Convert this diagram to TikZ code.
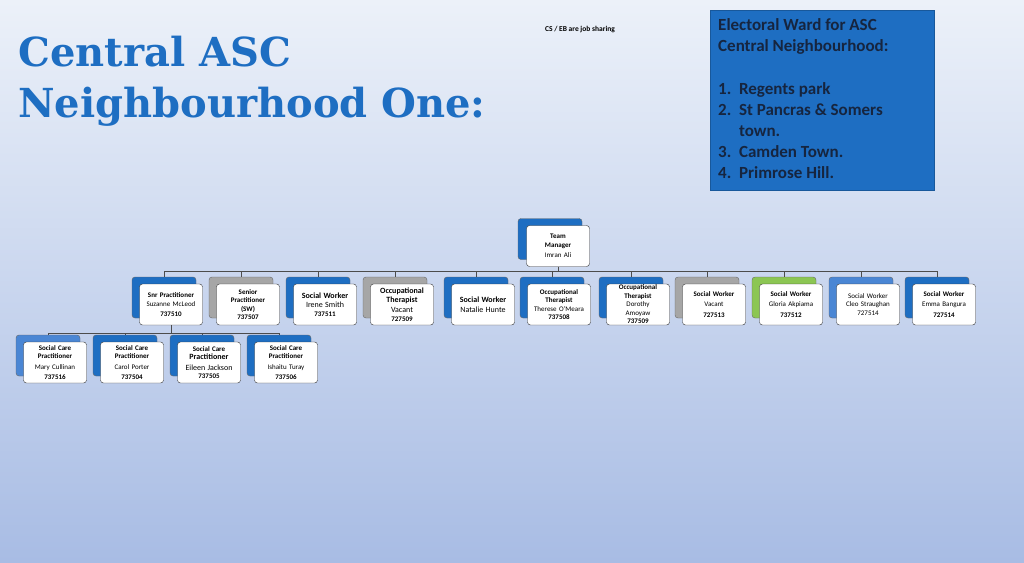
\documentclass[tikz,border=0pt]{standalone}
\usepackage{fontspec}
\setmainfont{Carlito}
\newfontfamily\titlefont{DejaVu Serif}
\usetikzlibrary{positioning}
\definecolor{ascblue}{HTML}{1E6EC2}
\definecolor{navy}{HTML}{16253F}
\definecolor{cardgray}{HTML}{A6A6A6}
\definecolor{cardgreen}{HTML}{8CC653}
\definecolor{cardsky}{HTML}{4A86D4}

\begin{document}
\begin{tikzpicture}[x=1pt,y=-1pt]
\tikzset{cardback/.style={draw=black!60,rounded corners=3pt,minimum width=64pt,minimum height=41pt},
cardfront/.style={draw=black!80,fill=white,rounded corners=3pt,minimum width=63pt,minimum height=41pt,text width=61pt,align=center,font=\fontsize{7}{8.5}\selectfont,inner sep=1pt},
link/.style={draw=black!70,line width=0.6pt}}
\shade[top color={rgb,255:red,236;green,241;blue,249},bottom color={rgb,255:red,168;green,188;blue,228}] (0,0) rectangle (1024,562);
\useasboundingbox (0,0) rectangle (1024,562);
% title and ward box
\node[anchor=north west,text=ascblue,font=\titlefont\bfseries\fontsize{40}{51}\selectfont,align=left,inner sep=0pt] (title) at (18,36) {Central ASC\\Neighbourhood One:};
\node[font=\fontsize{7.5}{8}\selectfont\bfseries] (share) at (580,30) {CS / EB are job sharing};
\node[fill=ascblue,draw=ascblue!80!black,minimum width=224pt,minimum height=180pt,anchor=north west] (ward) at (710,10) {};
\node[anchor=north west,text=navy,font=\bfseries\fontsize{17}{21}\selectfont,align=left,inner sep=0pt] (wardtxt) at (718,18) {Electoral Ward for ASC\\Central Neighbourhood:\\[22pt]
1.\ \ Regents park\\2.\ \ St Pancras \& Somers\\\hphantom{2.\ \ }town.\\3.\ \ Camden Town.\\4.\ \ Primrose Hill.};
% team manager
\node[cardback,fill=ascblue] (tmb) at (550,239) {};
\node[cardfront] (tm) at (558,246) {\textbf{Team}\\\textbf{Manager}\\[2pt]Imran Ali};
% top row
\coordinate (bus) at (558,271);
\draw[link] (tm.south) -- (bus);
\draw[link] (164,271) -- (937,271);
\foreach \n/\x/\c/\t in {
 sp/171/ascblue/{\textbf{Snr Practitioner}\\[1pt]Suzanne McLeod\\[1pt]\textbf{737510}},
 ss/248/cardgray/{\textbf{Senior}\\\textbf{Practitioner}\\\textbf{(SW)}\\\textbf{737507}},
 is/325/ascblue/{\textbf{\fontsize{8}{9.5}\selectfont Social Worker}\\[1pt]{\fontsize{8}{9.5}\selectfont Irene Smith}\\\textbf{737511}},
 ov/402/cardgray/{\textbf{\fontsize{8}{8}\selectfont Occupational}\\\textbf{\fontsize{8}{9.5}\selectfont Therapist}\\[2pt]{\fontsize{8}{9.5}\selectfont Vacant}\\\textbf{727509}},
 nh/483/ascblue/{\textbf{\fontsize{8}{9.5}\selectfont Social Worker}\\[1pt]{\fontsize{8}{9.5}\selectfont Natalie Hunte}},
 tom/559/ascblue/{\textbf{Occupational}\\\textbf{Therapist}\\Therese O'Meara\\\textbf{737508}},
 da/638/ascblue/{\textbf{Occupational}\\\textbf{Therapist}\\Dorothy\\Amoyaw\\\textbf{737509}},
 sv/714/cardgray/{\textbf{Social Worker}\\[2pt]Vacant\\[2pt]\textbf{727513}},
 ga/791/cardgreen/{\textbf{Social Worker}\\[2pt]Gloria Akpiama\\[2pt]\textbf{737512}},
 cs/868/cardsky/{Social Worker\\Cleo Straughan\\727514},
 eb/944/ascblue/{\textbf{Social Worker}\\[2pt]Emma Bangura\\[2pt]\textbf{727514}}}{
 \node[cardback,fill=\c] (\n b) at (\x-7,297.5) {};
 \node[cardfront] (\n) at (\x,304.5) {\t};
 \draw[link] (\n b.north |- bus) -- (\n b.north);
}
% bottom row
\coordinate (bus2) at (162,333);
\draw[link] (sp.south) -- (sp.south |- bus2);
\draw[link] (48,333) -- (279,333);
\foreach \n/\x/\c/\t in {
 mc/55/cardsky/{\textbf{Social Care}\\\textbf{Practitioner}\\[2pt]Mary Cullinan\\[2pt]\textbf{737516}},
 cp/132/ascblue/{\textbf{Social Care}\\\textbf{Practitioner}\\[2pt]Carol Porter\\[2pt]\textbf{737504}},
 ej/209/ascblue/{\textbf{Social Care}\\\textbf{\fontsize{8}{9.5}\selectfont Practitioner}\\[2pt]{\fontsize{8}{9.5}\selectfont Eileen Jackson}\\\textbf{737505}},
 it/286/ascblue/{\textbf{Social Care}\\\textbf{Practitioner}\\[2pt]Ishaitu Turay\\[2pt]\textbf{737506}}}{
 \node[cardback,fill=\c] (\n b) at (\x-7,355.5) {};
 \node[cardfront] (\n) at (\x,362.5) {\t};
 \draw[link] (\n b.north |- bus2) -- (\n b.north);
}
\end{tikzpicture}
\end{document}
